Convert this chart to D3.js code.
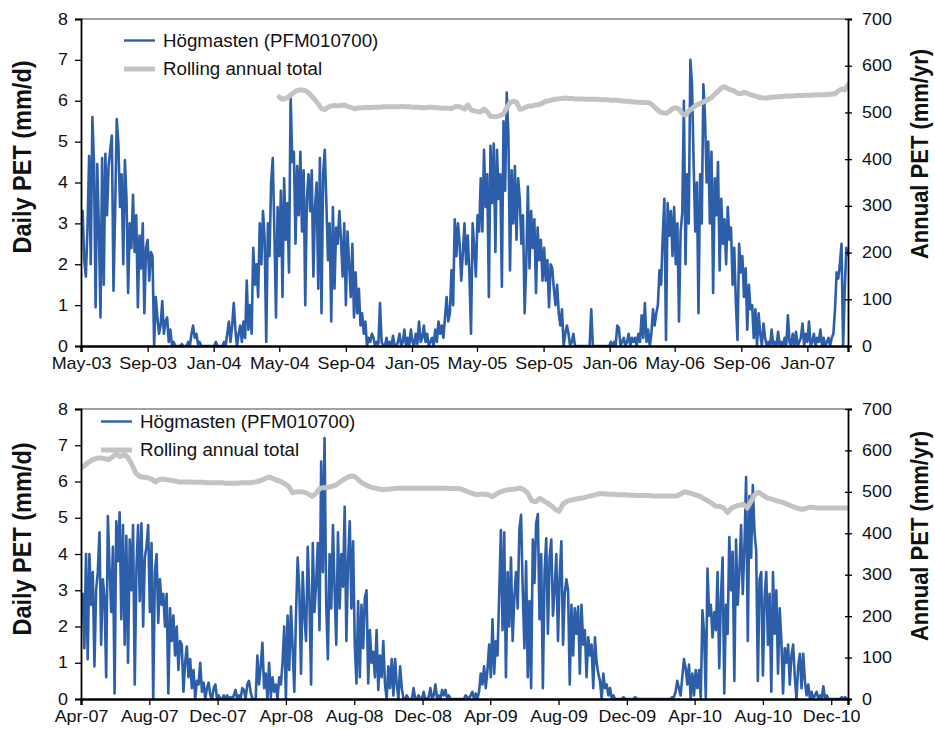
<!DOCTYPE html>
<meta charset="utf-8">
<script src="https://d3js.org/d3.v7.min.js"></script>
<style>
  body { margin: 0; background: #fff; }
  text { font-family: "Liberation Sans", Arial, sans-serif; fill: #111; }
  .tick text { font-size: 16px; transform-box: fill-box; }
  .xax .tick text { transform: scaleX(1.12); transform-origin: center; }
  .yl .tick text { transform: scaleX(1.12); transform-origin: right center; }
  .yr .tick text { transform: scaleX(1.12); transform-origin: left center; }
  .leg { font-size: 17.5px; transform-box: fill-box; transform: scaleX(1.07); transform-origin: left center; }
  .ttl { font-weight: bold; }
</style>
<div id="chart"></div>
<script>

// ---------- data ----------
// daily PET (mm/d), one value every 3 days
const topStart = "2003-05-01";
const topDaily = [
  2.8, 3.3, 2.1, 1.7, 2.9, 4.65, 2.0, 5.6, 4.45, 0.95,
  4.45, 2.9, 0.7, 4.6, 1.5, 4.7, 3.2, 4.4, 4.8, 5.15,
  1.35, 3.3, 5.55, 4.95, 3.4, 4.2, 2.0, 4.55, 3.6, 1.3,
  3.0, 2.4, 3.7, 2.3, 3.2, 0.95, 2.7, 1.9, 3.0, 0.8,
  2.4, 2.6, 1.6, 2.3, 2.2, 0, 1.2, 0.7, 0.3, 0.5,
  1.1, 0.3, 0.6, 0.7, 0.1, 0.4, 0, 0.1, 0, 0,
  0, 0, 0.05, 0, 0, 0, 0.1, 0, 0.3, 0.5,
  0.2, 0.3, 0.05, 0.1, 0, 0, 0, 0, 0, 0,
  0, 0, 0, 0.1, 0, 0, 0, 0, 0.1, 0,
  0.3, 0.6, 0.1, 0.5, 1.05, 0.4, 0, 0.3, 0.5, 0.1,
  0.6, 0.2, 1.6, 0.4, 1.0, 0.3, 2.4, 1.5, 2.0, 1.2,
  3.0, 2.0, 3.3, 2.6, 0.1, 3.0, 2.2, 4.0, 4.6, 2.8,
  0.7, 3.4, 2.2, 3.8, 1.2, 4.1, 2.6, 3.5, 1.8, 6.15,
  4.5, 4.75, 2.5, 4.4, 3.2, 4.75, 2.8, 4.3, 1.0, 3.6,
  4.2, 3.3, 4.3, 1.7, 3.4, 4.0, 1.4, 4.6, 0.8, 4.2,
  4.8, 3.5, 2.1, 3.0, 0.6, 3.4, 1.4, 2.9, 2.5, 3.3,
  2.6, 1.7, 3.0, 1.0, 2.8, 2.0, 1.2, 2.5, 0.7, 1.8,
  0.8, 1.4, 0.5, 0.8, 0.3, 0.6, 0, 0.2, 0.1, 0.3,
  0.2, 0, 0.1, 0.05, 1.05, 0.1, 0, 0, 0.2, 0,
  0.1, 0, 0.25, 0, 0, 0.1, 0.3, 0, 0.1, 0.4,
  0, 0.2, 0, 0.4, 0.1, 0, 0.3, 0.05, 0.6, 0.1,
  0.2, 0.5, 0.1, 0.3, 0, 0.1, 0.2, 0, 0.4, 0.1,
  0.6, 0.3, 0.5, 0.2, 0.7, 1.2, 0.6, 0.8, 1.85, 1.0,
  3.1, 2.2, 3.0, 2.5, 1.6, 2.3, 3.0, 2.0, 2.7, 1.8,
  0.3, 3.0, 2.4, 1.7, 3.2, 2.8, 4.1, 2.8, 4.8, 3.4,
  4.2, 1.2, 4.9, 3.5, 4.95, 2.3, 4.8, 3.6, 4.2, 1.45,
  5.5, 3.8, 6.2, 5.2, 1.85, 4.3, 3.0, 4.4, 2.6, 4.1,
  3.6, 2.5, 3.2, 0.8, 2.0, 3.9, 1.9, 3.3, 2.4, 3.1,
  1.3, 2.9, 2.1, 2.6, 1.6, 2.4, 1.6, 2.1, 0.95, 2.0,
  1.9, 1.4, 1.0, 1.5, 0.8, 0.5, 0.9, 0, 0.3, 0.5,
  0.3, 0, 0.1, 0.3, 0, 0, 0, 0, 0, 0,
  0, 0, 0, 0, 0.9, 0, 0, 0, 0, 0,
  0, 0, 0, 0, 0, 0, 0.1, 0, 0.1, 0,
  0.5, 0.45, 0, 0.1, 0.2, 0, 0.1, 0.3, 0, 0.2,
  0.1, 0.2, 0, 0.3, 0.1, 0.75, 0.2, 1.05, 0.1, 0.4,
  0, 0.3, 0.9, 0.5, 0.8, 1.0, 1.85, 1.5, 2.7, 3.6,
  0.15, 3.5, 2.7, 3.3, 2.2, 3.4, 2.0, 3.0, 0.6, 2.8,
  3.25, 6.0, 2.0, 4.2, 3.0, 7.0, 6.4, 4.5, 2.8, 4.0,
  0.8, 4.2, 3.0, 6.4, 5.6, 4.0, 5.0, 3.0, 4.75, 1.3,
  4.1, 3.2, 4.5, 1.85, 3.6, 2.5, 3.1, 2.0, 3.4, 2.6,
  2.9, 1.5, 2.4, 1.05, 0.15, 2.5, 1.8, 2.2, 1.2, 1.9,
  0.4, 1.5, 0.9, 1.0, 0.2, 0.9, 0, 0.8, 0.3, 0,
  0.55, 0.2, 0, 0.1, 0, 0.4, 0, 0.1, 0, 0.35,
  0, 0.1, 0, 0.2, 0, 0.75, 0.1, 0, 0.3, 0,
  0.35, 0, 0.1, 0.2, 0.55, 0, 0.3, 0.1, 0.6, 0,
  0.1, 0.3, 0, 0.2, 0.1, 0.4, 0, 0.2, 0, 0.1,
  0.2, 0, 0.2, 0.3, 0.9, 1.8, 1.65, 2.0, 2.5, 0,
  1.4, 2.4, 2.2
];

// rolling annual total (mm/yr), one value every 6 days
const topRollStart = "2004-05-01";
const topRoll = [
  533, 528, 530, 534, 540, 545, 548, 548, 547, 542,
  535, 527, 518, 508, 506, 511, 514, 515, 514, 515,
  516, 513, 511, 508, 509, 510, 510, 511, 510, 511,
  511, 511, 512, 512, 512, 512, 512, 512, 513, 512,
  512, 511, 511, 511, 510, 510, 511, 511, 510, 510,
  509, 509, 509, 508, 512, 513, 511, 507, 516, 506,
  503, 502, 501, 507, 501, 492, 491, 491, 493, 497,
  510, 521, 524, 522, 507, 508, 512, 514, 514, 516,
  517, 520, 524, 525, 527, 528, 529, 530, 531, 530,
  530, 529, 529, 529, 528, 528, 528, 528, 528, 527,
  527, 527, 526, 526, 526, 525, 524, 524, 523, 523,
  522, 522, 521, 521, 520, 515, 508, 502, 499, 498,
  502, 508, 510, 507, 498, 494, 503, 508, 514, 518,
  521, 524, 528, 532, 539, 545, 552, 555, 551, 548,
  546, 541, 540, 543, 541, 538, 536, 534, 532, 531,
  531, 532, 533, 533, 534, 534, 535, 535, 535, 536,
  536, 536, 537, 537, 537, 538, 538, 538, 538, 539,
  539, 540, 546, 550, 548, 559
];

const botStart = "2007-04-01";
const botDaily = [
  2.3, 2.9, 1.4, 4.0, 1.1, 4.0, 2.6, 3.5, 0.9, 3.0,
  3.5, 4.6, 1.5, 3.3, 2.8, 0.6, 5.05, 3.6, 2.4, 4.2,
  0.15, 4.9, 3.8, 5.15, 2.2, 4.8, 1.5, 4.5, 1.0, 4.4,
  3.0, 4.8, 0.4, 3.6, 4.8, 2.7, 4.85, 2.0, 3.9, 4.2,
  4.8, 2.4, 4.3, 0, 3.5, 4.0, 2.1, 3.3, 2.6, 2.9,
  2.0, 2.9, 0.15, 2.5, 1.6, 2.3, 1.2, 2.0, 0.8, 1.6,
  1.5, 0.2, 1.0, 1.45, 0.6, 1.1, 0.3, 0.8, 0, 0.5,
  0.4, 1.0, 0.2, 0.45, 0, 0.3, 0.45, 0.1, 0, 0.3,
  0.4, 0, 0.1, 0, 0, 0.1, 0, 0.1, 0, 0.05,
  0, 0.1, 0.25, 0, 0.1, 0, 0.3, 0.25, 0, 0.4,
  0.5, 0.2, 0, 0, 0, 1.2, 0.4, 0.9, 1.55, 0.3,
  0.7, 0, 1.0, 0.05, 0.6, 0.2, 0.4, 0, 0.6, 0.4,
  1.0, 2.0, 0, 2.3, 0.8, 2.55, 1.4, 0.2, 2.3, 3.9,
  3.0, 0.7, 3.5, 2.3, 1.6, 4.2, 2.8, 0.4, 4.3, 2.4,
  3.2, 4.3, 1.9, 6.55, 3.5, 7.2, 2.6, 1.1, 4.0, 2.5,
  4.8, 3.0, 1.5, 4.6, 2.5, 4.0, 3.1, 5.3, 1.6, 3.8,
  4.9, 2.5, 4.35, 1.5, 0.43, 2.7, 0.6, 2.6, 1.4, 2.8,
  3.0, 0.43, 1.9, 1.0, 1.3, 0.6, 1.9, 0.25, 1.2, 0.6,
  1.6, 0.4, 0, 0.9, 0.3, 1.1, 0.1, 1.1, 0.4, 0,
  0.9, 0.3, 0, 0, 0.1, 0, 0, 0, 0.3, 0,
  0, 0.1, 0, 0, 0.2, 0, 0, 0.05, 0.3, 0,
  0.1, 0.4, 0, 0.1, 0, 0.25, 0.1, 0.25, 0, 0.1,
  0, 0, 0, 0, 0, 0, 0, 0, 0, 0.1,
  0.05, 0, 0.1, 0.2, 0, 0.15, 0, 0.2, 0.7, 0.4,
  0.9, 0.3, 0.8, 1.5, 0.6, 2.2, 0.7, 1.6, 1.2, 2.9,
  4.66, 1.9, 4.6, 0.6, 3.5, 2.0, 3.9, 1.6, 2.8, 3.5,
  2.5, 4.66, 5.08, 3.0, 1.4, 3.8, 0.6, 2.7, 0.3, 4.4,
  3.2, 4.85, 5.1, 2.2, 4.0, 0.3, 3.5, 4.43, 1.8, 3.9,
  4.4, 2.3, 3.0, 4.0, 1.6, 3.4, 4.35, 1.5, 2.9, 3.3,
  3.0, 0.4, 2.6, 1.2, 2.5, 1.8, 2.55, 0.7, 2.6, 1.5,
  1.9, 0.6, 1.7, 1.2, 1.5, 0.3, 1.7, 1.0, 0.7, 0.5,
  0, 0.7, 0.3, 0.4, 0.1, 0.3, 0, 0.1, 0, 0,
  0, 0, 0, 0.05, 0, 0, 0, 0, 0, 0,
  0.05, 0, 0, 0, 0, 0, 0, 0, 0, 0,
  0, 0, 0, 0, 0, 0, 0, 0, 0, 0,
  0, 0, 0.05, 0.05, 0.2, 0.5, 0.3, 0.1, 0.6, 1.1,
  0.85, 0.4, 0.95, 0, 0.7, 0.1, 0.8, 0.3, 0.8, 0,
  2.45, 1.8, 0, 3.6, 2.3, 2.6, 1.7, 2.4, 1.9, 3.5,
  0.85, 2.8, 3.9, 0.15, 2.6, 1.8, 4.47, 3.0, 4.06, 0.5,
  4.4, 2.6, 3.5, 4.8, 2.9, 4.2, 6.12, 1.6, 5.6, 3.9,
  5.9, 4.6, 4.1, 0.5, 3.3, 3.5, 0.65, 2.8, 3.5, 1.5,
  2.9, 0.2, 3.5, 1.8, 3.0, 0.7, 2.5, 1.6, 0.15, 1.4,
  1.0, 1.5, 0.4, 1.2, 1.5, 0.6, 0, 0.9, 1.25, 0.3,
  1.25, 0.5, 0.1, 0.4, 0, 0.2, 0, 0.1, 0.2, 0,
  0.1, 0, 0.35, 0, 0.1, 0, 0, 0, 0, 0,
  0, 0, 0, 0.05, 0, 0.05, 0, 0
];

// rolling annual total, one value every 7 days
const botRollStart = "2007-04-01";
const botRoll = [
  558, 564, 572, 578, 581, 582, 580, 578, 584, 592,
  585, 590, 583, 566, 545, 537, 535, 534, 531, 524,
  530, 531, 529, 528, 526, 524, 524, 524, 524, 523,
  523, 523, 522, 522, 522, 522, 522, 521, 521, 521,
  521, 522, 522, 522, 523, 525, 528, 532, 536, 532,
  528, 525, 519, 513, 498, 500, 500, 499, 495, 489,
  497, 509, 510, 511, 513, 516, 523, 530, 535, 539,
  536, 527, 520, 515, 511, 509, 507, 505, 506, 507,
  508, 509, 509, 509, 509, 509, 509, 509, 509, 509,
  509, 509, 509, 509, 508, 508, 508, 507, 503, 499,
  496, 493, 494, 494, 493, 488, 495, 500, 503, 505,
  506, 507, 509, 505, 497, 479, 476, 484, 479, 473,
  467, 458, 453, 471, 477, 480, 482, 484, 485, 488,
  490, 492, 495, 496, 495, 494, 494, 493, 493, 493,
  492, 492, 491, 491, 491, 491, 490, 490, 490, 490,
  490, 490, 490, 495, 500, 498, 495, 492, 489, 483,
  478, 472, 465, 465, 461, 450, 461, 465, 468, 470,
  461, 478, 494, 499, 492, 486, 483, 480, 477, 475,
  471, 467, 463, 460, 458, 460, 463, 462, 461, 461,
  461, 461, 461, 461, 461, 461, 461
];

const topTicks = ["May-03", "Sep-03", "Jan-04", "May-04", "Sep-04", "Jan-05", "May-05",
                  "Sep-05", "Jan-06", "May-06", "Sep-06", "Jan-07"];
const botTicks = ["Apr-07", "Aug-07", "Dec-07", "Apr-08", "Aug-08", "Dec-08", "Apr-09",
                  "Aug-09", "Dec-09", "Apr-10", "Aug-10", "Dec-10"];
const dailyTicks = [0, 1, 2, 3, 4, 5, 6, 7, 8];
const annualTicks = [0, 100, 200, 300, 400, 500, 600, 700];

// ---------- drawing ----------
const W = 935, H = 729;
const blue = "#2c5ea9", grey = "#c3c3c3";
const parseIso = d3.timeParse("%Y-%m-%d");
const parseTick = d3.timeParse("%b-%y");
const fmtTick = d3.timeFormat("%b-%y");

const svg = d3.select("#chart").append("svg")
  .attr("width", W).attr("height", H);

function series(start, step, vals) {
  const s = parseIso(start);
  return vals.map((v, i) => ({date: d3.timeDay.offset(s, step * i), v: v}));
}

function panel(o) {
  const left = 81, right = 848;
  const x = d3.scaleTime().domain(o.xDomain).range([left, right]);
  const yd = d3.scaleLinear().domain([0, 8]).range([o.bottom, o.top]);
  const ya = d3.scaleLinear().domain([0, 700]).range([o.bottom, o.top]);
  const g = svg.append("g");

  const clipId = "clip" + o.id;
  g.append("clipPath").attr("id", clipId)
    .append("rect").attr("x", left).attr("y", o.top - 10)
    .attr("width", right - left).attr("height", o.bottom - o.top + 10);

  // top border
  g.append("line").attr("x1", left).attr("x2", right)
    .attr("y1", o.top).attr("y2", o.top)
    .attr("stroke", "#444").attr("stroke-width", 1.2);

  const plot = g.append("g").attr("clip-path", `url(#${clipId})`);
  plot.append("path")
    .datum(o.daily)
    .attr("fill", "none").attr("stroke", blue).attr("stroke-width", 2.6)
    .attr("stroke-linejoin", "round")
    .attr("d", d3.line().x(d => x(d.date)).y(d => yd(d.v)));
  plot.append("path")
    .datum(o.roll)
    .attr("fill", "none").attr("stroke", grey).attr("stroke-width", 5)
    .attr("stroke-linejoin", "round").attr("stroke-linecap", "round")
    .attr("d", d3.line().x(d => x(d.date)).y(d => ya(d.v)));

  // axes
  const xa = g.append("g").attr("class", "xax")
    .attr("transform", `translate(0,${o.bottom})`)
    .call(d3.axisBottom(x).tickValues(o.ticks.map(parseTick))
      .tickFormat(fmtTick).tickSizeOuter(0).tickSize(6).tickPadding(6));
  xa.select(".domain").attr("stroke", "#000").attr("stroke-width", 2.4);
  xa.selectAll(".tick line").attr("stroke-width", 1.3);

  const yl = g.append("g").attr("class", "yl")
    .attr("transform", `translate(${left},0)`)
    .call(d3.axisLeft(yd).tickValues(dailyTicks).tickSizeOuter(0).tickSize(6).tickPadding(7));
  yl.select(".domain").attr("stroke-width", 1.8);
  yl.selectAll(".tick line").attr("stroke-width", 1.3);

  const yr = g.append("g").attr("class", "yr")
    .attr("transform", `translate(${right},0)`)
    .call(d3.axisRight(ya).tickValues(annualTicks).tickSizeOuter(0).tickSize(4).tickPadding(10));
  yr.select(".domain").attr("stroke-width", 1.8);
  yr.selectAll(".tick line").attr("x1", -3).attr("stroke-width", 1.3);

  g.selectAll(".tick text").style("font-size", "16px").attr("fill", "#111");

  // axis titles
  g.append("text").attr("class", "ttl")
    .style("font-size", "23.5px")
    .attr("transform", `translate(31,${o.titleY}) scale(1.1,1) rotate(-90)`)
    .attr("text-anchor", "middle").text("Daily PET (mm/d)");
  g.append("text").attr("class", "ttl")
    .style("font-size", "22px")
    .attr("transform", `translate(928,${o.titleY - 3}) scale(1.08,1) rotate(-90)`)
    .attr("text-anchor", "middle").text("Annual PET (mm/yr)");

  // legend
  const lg = g.append("g").attr("transform", `translate(${o.legX},${o.legY})`);
  lg.append("line").attr("x1", 0).attr("x2", 31).attr("y1", 0).attr("y2", 0)
    .attr("stroke", blue).attr("stroke-width", 2.4);
  lg.append("text").attr("class", "leg").attr("x", 39).attr("y", 6).text("Högmasten (PFM010700)");
  lg.append("line").attr("x1", 0).attr("x2", 31).attr("y1", 28.5).attr("y2", 28.5)
    .attr("stroke", grey).attr("stroke-width", 5);
  lg.append("text").attr("class", "leg").attr("x", 39).attr("y", 34.5).text("Rolling annual total");
}

const topDomainStart = parseIso(topStart);
panel({
  id: "t", top: 19, bottom: 346, titleY: 157,
  xDomain: [topDomainStart, d3.timeDay.offset(topDomainStart, 3 * (topDaily.length - 1))],
  daily: series(topStart, 3, topDaily),
  roll: series(topRollStart, 6, topRoll),
  ticks: topTicks, legX: 124, legY: 40.5
});

panel({
  id: "b", top: 409, bottom: 699, titleY: 539,
  xDomain: [parseIso(botStart), parseIso("2010-12-31")],
  daily: series(botStart, 3, botDaily),
  roll: series(botRollStart, 7, botRoll),
  ticks: botTicks, legX: 101, legY: 421.5
});

</script>
